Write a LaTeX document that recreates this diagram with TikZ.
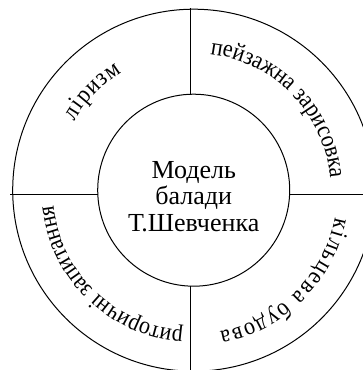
\documentclass[tikz,border=0pt]{standalone}
\usepackage{fontspec}
\setmainfont{Liberation Serif}
\newfontfamily\diagfont{Liberation Serif}
\newfontfamily\ringfamily[FakeStretch=0.9]{Liberation Serif}
\usetikzlibrary{decorations.text,calc}
\newcommand\ringfont{\ringfamily\fontsize{24.5}{24.5}\selectfont}
\newcommand\ringwidefont{\ringfamily\fontsize{24.5}{24.5}\selectfont\kern1.6pt}
\newcommand\ringmidfont{\ringfamily\fontsize{24.5}{24.5}\selectfont\kern1.2pt}
\tikzset{
  ring/.style={draw,line width=1pt},
  divider/.style={draw,line width=1pt},
  ringlabel/.style={decorate,decoration={text along path,text align=center,text={|\ringfont|#1}}},
  ringwidelabel/.style={decorate,decoration={text along path,text align=center,text={|\ringwidefont|#1}}},
  ringmidlabel/.style={decorate,decoration={text along path,text align=center,text={|\ringmidfont|#1}}}
}
\begin{document}
\begin{tikzpicture}[x=1pt,y=1pt]
\useasboundingbox (0,0) rectangle (363,370);
\clip (0,0) rectangle (363,370);
\coordinate (c) at (193.7,179.8);
\node[ring,circle,minimum size=362pt,inner sep=0pt] (outer) at (c) {};
\node[ring,circle,minimum size=192pt,inner sep=0pt] (inner) at (c) {};
\node[align=center,inner sep=0pt,font=\diagfont\fontsize{26}{26.5}\selectfont] (title) at ($(c)+(0,-6)$) {Модель\\балади\\Т.Шевченка};
\coordinate (topend) at (190.7,361.7);
\coordinate (topin) at (190.7,275.7);
\coordinate (botin) at (190.7,84.2);
\coordinate (botend) at (190.7,0);
\coordinate (leftend) at (10,175.7);
\coordinate (leftin) at (97.9,175.7);
\coordinate (rightin) at (289.5,175.7);
\coordinate (rightend) at (363,175.7);
\draw[divider] (topend) -- (topin);
\draw[divider] (botin) -- (botend);
\draw[divider] (leftend) -- (leftin);
\draw[divider] (rightin) -- (rightend);
\path[ringmidlabel={ліризм}] ($(c)+(181:138)$) arc[start angle=181,end angle=91,radius=138];
\path[ringlabel={пейзажна зарисовка}] ($(c)+(89:137)$) arc[start angle=89,end angle=-1,radius=137];
\path[ringwidelabel={кільцева будова}] ($(c)+(0:144)$) arc[start angle=0,end angle=-90,radius=144];
\path[ringlabel={риторичні запитання}] ($(c)+(-89:141)$) arc[start angle=-89,end angle=-179,radius=141];
\end{tikzpicture}
\end{document}
